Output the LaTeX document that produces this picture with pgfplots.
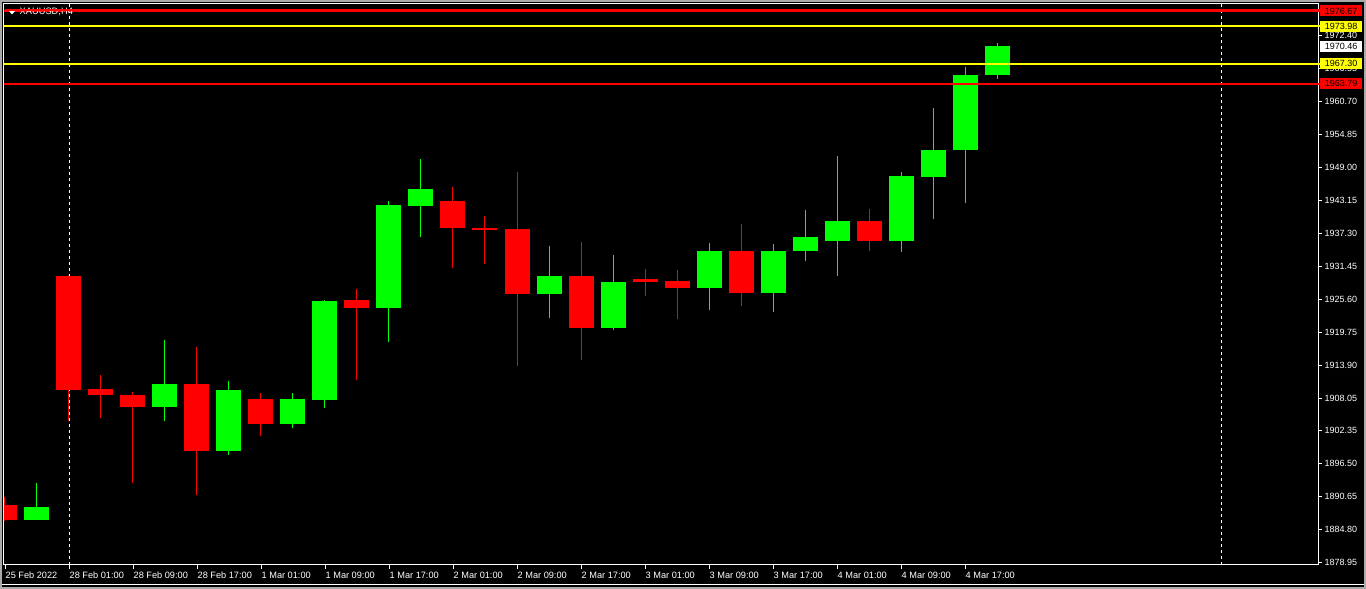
\documentclass[border=0pt]{standalone}
\usepackage{fontspec}
\setmainfont{Liberation Sans}
\usepackage{pgfplots}
\usepackage{pgfplotstable}
\pgfplotsset{compat=1.18}
\definecolor{bull}{RGB}{0,255,0}
\definecolor{bear}{RGB}{255,0,0}
\definecolor{lvl}{RGB}{255,255,0}
\definecolor{frm}{RGB}{170,170,170}
\pgfplotstableread{
k open high low close
-1 1886.45 1892.96 1886.45 1888.70
3 1906.49 1918.32 1903.95 1910.52
5 1898.63 1911.05 1897.93 1909.45
7 1903.42 1908.92 1902.71 1907.86
8 1907.68 1925.41 1906.26 1925.24
10 1924.05 1942.97 1918.02 1942.26
11 1942.14 1950.42 1936.64 1945.10
15 1926.48 1934.99 1922.27 1929.67
17 1920.50 1933.39 1920.09 1928.61
20 1927.59 1935.52 1923.69 1934.10
22 1926.71 1935.34 1923.34 1934.10
23 1934.16 1941.37 1932.38 1936.59
24 1935.93 1950.95 1929.72 1939.42
26 1935.93 1948.11 1933.98 1947.40
27 1947.28 1959.46 1939.83 1952.01
28 1952.07 1966.73 1942.67 1965.31
29 1965.37 1970.99 1964.66 1970.46
}\bulltab
\pgfplotstableread{
k open high low close
-2 1889.06 1890.48 1886.22 1886.45
0 1929.67 1929.80 1903.95 1909.51
1 1909.63 1912.11 1904.54 1908.57
2 1908.57 1909.10 1893.01 1906.49
4 1910.52 1917.08 1890.83 1898.63
6 1907.86 1908.92 1901.29 1903.42
9 1925.41 1927.36 1911.23 1923.99
12 1942.97 1945.45 1931.14 1938.23
13 1938.18 1940.31 1931.85 1937.83
14 1938.00 1948.11 1913.76 1926.48
16 1929.67 1935.70 1914.83 1920.50
18 1929.14 1930.91 1926.18 1928.66
19 1928.78 1930.73 1922.10 1927.59
21 1934.10 1938.89 1924.40 1926.71
25 1939.42 1941.55 1934.16 1935.93
}\beartab
\begin{document}
\begin{tikzpicture}
\useasboundingbox (0pt,0pt) rectangle (1366pt,589pt);
\fill[black] (0pt,0pt) rectangle (1366pt,589pt);
\draw[frm, line width=2pt] (1pt,1pt) rectangle (1365pt,588pt);
\draw[white, line width=1pt] (2pt,4pt) -- (1364pt,4pt);
\begin{axis}[
  at={(4pt,24pt)}, anchor=south west,
  scale only axis, width=1314pt, height=561pt,
  xmin=-2.03, xmax=39.03, ymin=1878.42, ymax=1977.91,
  axis background/.style={fill=black},
  axis line style={white, line width=1pt},
  xtick pos=left, ytick pos=right, yticklabel pos=right,
  tick align=outside, major tick length=4pt,
  tick style={white, line width=0.8pt},
  ytick={1878.95,1884.80,1890.65,1896.50,1902.35,1908.05,1913.90,1919.75,1925.60,1931.45,1937.30,1943.15,1949.00,1954.85,1960.70,1966.55,1972.40},
  xtick={-2,0,2,...,28},
  xticklabels={25 Feb 2022,28 Feb 01:00,28 Feb 09:00,28 Feb 17:00,1 Mar 01:00,1 Mar 09:00,1 Mar 17:00,2 Mar 01:00,2 Mar 09:00,2 Mar 17:00,3 Mar 01:00,3 Mar 09:00,3 Mar 17:00,4 Mar 01:00,4 Mar 09:00,4 Mar 17:00},
  yticklabel style={text=white, font=\fontsize{9}{10}\selectfont, anchor=west, inner sep=0pt, xshift=2.5pt},
  xticklabel style={text=white, font=\fontsize{9.2}{10}\selectfont, anchor=north west, inner sep=0pt, xshift=0.5pt, yshift=-2.5pt},
  /pgf/number format/.cd, fixed, fixed zerofill, precision=2, 1000 sep={}, assume math mode=true,
]
\addplot[white, line width=0.8pt, dash pattern=on 3pt off 3pt] coordinates {(0,1878.42) (0,1977.91)};
\addplot[white, line width=0.8pt, dash pattern=on 3pt off 3pt] coordinates {(36,1878.42) (36,1977.91)};
% wicks
\addplot[draw=none, mark=none, error bars/.cd, y dir=plus, y explicit, error mark=none,
  error bar style={draw=bull, line width=1pt}]
  table[x=k, y=low, y error expr=\thisrow{high}-\thisrow{low}] {\bulltab};
\addplot[draw=none, mark=none, error bars/.cd, y dir=plus, y explicit, error mark=none,
  error bar style={draw=bear, line width=1pt}]
  table[x=k, y=low, y error expr=\thisrow{high}-\thisrow{low}] {\beartab};
% bodies
\addplot[draw=none, mark=none, error bars/.cd, y dir=plus, y explicit, error mark=none,
  error bar style={draw=bull, line width=25pt}]
  table[x=k, y=open, y error expr=\thisrow{close}-\thisrow{open}] {\bulltab};
\addplot[draw=none, mark=none, error bars/.cd, y dir=plus, y explicit, error mark=none,
  error bar style={draw=bear, line width=25pt}]
  table[x=k, y=close, y error expr=\thisrow{open}-\thisrow{close}] {\beartab};
\addplot[draw=bear, line width=2pt] coordinates {(-2.03,1976.67) (39.03,1976.67)};
\addplot[draw=lvl, line width=2pt] coordinates {(-2.03,1973.98) (39.03,1973.98)};
\addplot[draw=lvl, line width=2pt] coordinates {(-2.03,1967.30) (39.03,1967.30)};
\addplot[draw=bear, line width=2pt] coordinates {(-2.03,1963.79) (39.03,1963.79)};
\coordinate (tA) at (axis cs:39.03,1976.67);
\coordinate (tB) at (axis cs:39.03,1973.98);
\coordinate (tC) at (axis cs:39.03,1970.46);
\coordinate (tD) at (axis cs:39.03,1967.30);
\coordinate (tE) at (axis cs:39.03,1963.79);
\end{axis}
\fill[white] (8.5pt,578.5pt) -- (15.5pt,578.5pt) -- (12pt,574.5pt) -- cycle;
\node[anchor=west, text=white, inner sep=0pt, font=\fontsize{9.3}{10}\selectfont] at (19.5pt,577pt) {XAUUSD,H4};
\draw[bear, line width=2pt] (4.5pt,579pt) -- (1320pt,579pt);
\tikzset{tag/.style={anchor=west, text=black, inner sep=0pt, minimum width=42pt, minimum height=11pt, font=\fontsize{9}{10}\selectfont}}
\draw[bear, line width=2pt] (tA) -- ++(2pt,0pt);
\draw[lvl, line width=2pt] (tB) -- ++(2pt,0pt);
\draw[lvl, line width=2pt] (tD) -- ++(2pt,0pt);
\draw[bear, line width=2pt] (tE) -- ++(2pt,0pt);
\node[tag, fill=bear] at ([xshift=2pt]tA) {1976.67};
\node[tag, fill=lvl] at ([xshift=2pt]tB) {1973.98};
\node[tag, fill=white] at ([xshift=2pt]tC) {1970.46};
\node[tag, fill=lvl] at ([xshift=2pt]tD) {1967.30};
\node[tag, fill=bear] at ([xshift=2pt]tE) {1963.79};
\end{tikzpicture}
\end{document}
